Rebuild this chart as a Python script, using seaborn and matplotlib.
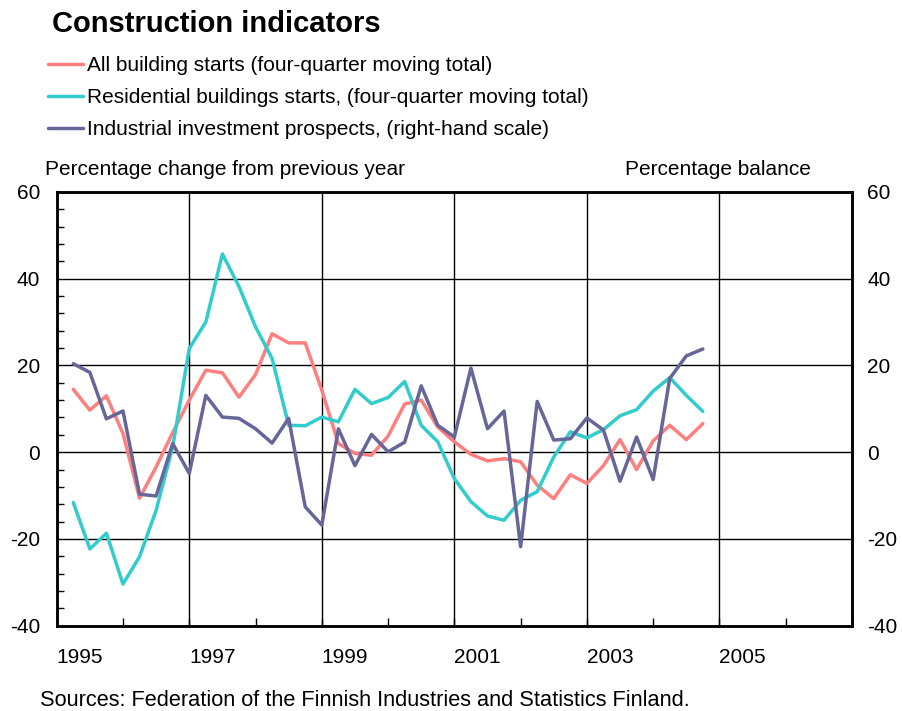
import numpy as np
import pandas as pd
import matplotlib
matplotlib.use("Agg")
import matplotlib.pyplot as plt
from matplotlib.ticker import MultipleLocator, FixedLocator
import seaborn as sns

# Quarterly observations, 1995 Q2 .. 2004 Q4 (plotted at quarter ends)
quarters = [1995.25 + 0.25 * i for i in range(39)]

all_building_starts = [
    14.5, 9.7, 13.0, 4.3, -10.6, -3.4, 4.5, 12.0, 18.9, 18.3,
    12.7, 17.9, 27.3, 25.2, 25.2, 14.3, 2.0, -0.3, -0.7, 3.7,
    11.1, 12.0, 5.8, 2.4, -0.5, -2.0, -1.5, -2.2, -7.6, -10.7,
    -5.2, -7.2, -3.1, 2.9, -4.0, 2.6, 6.2, 2.9, 6.6,
]
residential_starts = [
    -11.6, -22.3, -18.7, -30.4, -24.1, -13.4, 1.2, 23.9, 30.0, 45.7,
    38.2, 28.9, 21.6, 6.2, 6.1, 8.1, 7.0, 14.5, 11.2, 12.6,
    16.3, 6.2, 2.4, -6.1, -11.4, -14.7, -15.7, -11.1, -9.1, -1.1,
    4.7, 3.3, 5.2, 8.4, 9.8, 14.1, 17.2, 13.1, 9.4,
]
industrial_prospects = [
    20.4, 18.4, 7.7, 9.5, -9.7, -10.1, 2.0, -4.9, 13.1, 8.1,
    7.8, 5.4, 2.1, 7.8, -12.6, -16.8, 5.4, -3.1, 4.1, 0.1,
    2.3, 15.3, 6.2, 3.5, 19.4, 5.4, 9.5, -21.8, 11.7, 2.8,
    3.1, 7.9, 5.1, -6.7, 3.5, -6.3, 17.0, 22.2, 23.8,
]

series_labels = [
    "All building starts (four-quarter moving total)",
    "Residential buildings starts, (four-quarter moving total)",
    "Industrial investment prospects, (right-hand scale)",
]
series_colors = ["#FF7F7F", "#33CCCC", "#666699"]

year_ticks = [1995, 1997, 1999, 2001, 2003, 2005, 2007]
year_labels = ["1995", "1997", "1999", "2001", "2003", "2005", ""]
y_ticks = [-40, -20, 0, 20, 40, 60]

df = pd.DataFrame({
    "quarter": quarters,
    "all": all_building_starts,
    "res": residential_starts,
    "ind": industrial_prospects,
})

sns.set_style("white")
plt.rcParams["font.family"] = ["Liberation Sans", "DejaVu Sans"]
plt.rcParams["font.size"] = 15
plt.rcParams["axes.unicode_minus"] = False
plt.rcParams["text.color"] = "black"
plt.rcParams["xtick.color"] = "black"
plt.rcParams["ytick.color"] = "black"
plt.rcParams["xtick.labelcolor"] = "black"
plt.rcParams["ytick.labelcolor"] = "black"

fig = plt.figure(figsize=(9.03, 7.11), dpi=100)
ax = fig.add_axes([0.0628, 0.120, 0.8807, 0.610])
ax2 = ax.twinx()

lw = 2.5
sns.lineplot(data=df, x="quarter", y="all", ax=ax, color=series_colors[0],
             linewidth=lw, label=series_labels[0], legend=False, zorder=3)
sns.lineplot(data=df, x="quarter", y="res", ax=ax, color=series_colors[1],
             linewidth=lw, label=series_labels[1], legend=False, zorder=3)
sns.lineplot(data=df, x="quarter", y="ind", ax=ax2, color=series_colors[2],
             linewidth=lw, label=series_labels[2], legend=False, zorder=3)

for a in (ax, ax2):
    a.set_xlim(1995, 2007)
    a.set_ylim(-40, 60)
    a.set_xlabel("")
    a.set_ylabel("")

# grid: horizontal every 20, vertical at odd years
for v in [-20, 0, 20, 40]:
    ax.axhline(v, color="black", linewidth=1.0, zorder=1)
for yr in [1997, 1999, 2001, 2003, 2005]:
    ax.axvline(yr, color="black", linewidth=1.0, zorder=1)

ax.xaxis.set_major_locator(FixedLocator(year_ticks))
ax.set_xticklabels(year_labels)
ax.xaxis.set_minor_locator(MultipleLocator(1))
ax.tick_params(axis="x", which="major", direction="in", length=6, width=1,
               pad=16, labelsize=15, bottom=True, top=False)
ax.tick_params(axis="x", which="minor", direction="in", length=6, width=1,
               bottom=True, top=False)
for lbl in ax.get_xticklabels():
    lbl.set_horizontalalignment("left")

ax.yaxis.set_major_locator(FixedLocator(y_ticks))
ax.yaxis.set_minor_locator(MultipleLocator(4))
ax.tick_params(axis="y", which="major", direction="in", length=0,
               pad=12, labelsize=15, left=True, right=False)
ax.tick_params(axis="y", which="minor", direction="in", length=5, width=1,
               left=True, right=False)

ax2.yaxis.set_major_locator(FixedLocator(y_ticks))
ax2.tick_params(axis="y", which="major", direction="in", length=0,
                pad=11, labelsize=15)

for a in (ax, ax2):
    for s in a.spines.values():
        s.set_color("black")
        s.set_linewidth(1.8)
        s.set_visible(True)

fig.text(0.058, 0.966, "Construction indicators", fontsize=21,
         fontweight="bold", va="center", ha="left")

handles = [ax.get_lines()[0], ax.get_lines()[1], ax2.get_lines()[0]]
fig.legend(handles, series_labels, loc="upper left",
           bbox_to_anchor=(0.0532, 0.9215), frameon=False, fontsize=15,
           handlelength=1.68, handletextpad=0.2, labelspacing=0.63,
           borderpad=0.0, borderaxespad=0.0)

fig.text(0.050, 0.761, "Percentage change from previous year", fontsize=15,
         va="center", ha="left")
fig.text(0.692, 0.761, "Percentage balance", fontsize=15,
         va="center", ha="left")
fig.text(0.044, 0.015, "Sources: Federation of the Finnish Industries and Statistics Finland.",
         fontsize=15.7, va="center", ha="left")

fig.savefig("out.png", dpi=100)
